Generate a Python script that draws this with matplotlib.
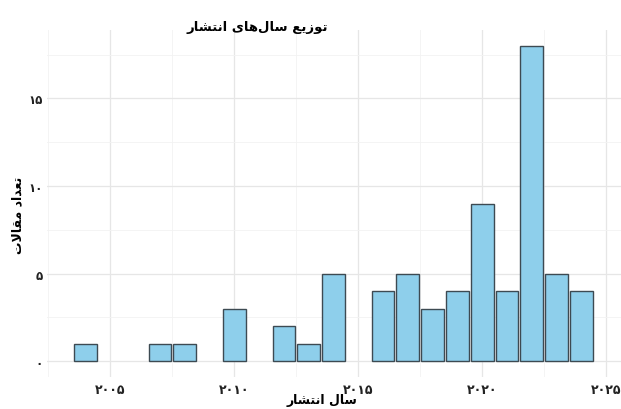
import numpy as np
import matplotlib
matplotlib.use('Agg')
import matplotlib.pyplot as plt
from matplotlib.ticker import MultipleLocator, FixedLocator

years = [2004, 2007, 2008, 2010, 2012, 2013, 2014, 2016, 2017, 2018,
         2019, 2020, 2021, 2022, 2023, 2024]
counts = [1, 1, 1, 3, 2, 1, 5, 4, 5, 3, 4, 9, 4, 18, 5, 4]

x_ticks = [2005, 2010, 2015, 2020, 2025]
y_ticks = [0, 5, 10, 15]

title = 'توزیع سال‌های انتشار'
xlabel = 'سال انتشار'
ylabel = 'تعداد مقالات'

# matplotlib has no arabic shaping, so pick presentation forms by hand
# forms: (isolated, final, initial, medial); None = letter does not join to the left
FORMS = {
    'ا': ('\uFE8D', '\uFE8E', None, None),
    'د': ('\uFEA9', '\uFEAA', None, None),
    'ر': ('\uFEAD', '\uFEAE', None, None),
    'ز': ('\uFEAF', '\uFEB0', None, None),
    'و': ('\uFEED', '\uFEEE', None, None),
    'ت': ('\uFE95', '\uFE96', '\uFE97', '\uFE98'),
    'س': ('\uFEB1', '\uFEB2', '\uFEB3', '\uFEB4'),
    'ش': ('\uFEB5', '\uFEB6', '\uFEB7', '\uFEB8'),
    'ع': ('\uFEC9', '\uFECA', '\uFECB', '\uFECC'),
    'ق': ('\uFED5', '\uFED6', '\uFED7', '\uFED8'),
    'ل': ('\uFEDD', '\uFEDE', '\uFEDF', '\uFEE0'),
    'م': ('\uFEE1', '\uFEE2', '\uFEE3', '\uFEE4'),
    'ن': ('\uFEE5', '\uFEE6', '\uFEE7', '\uFEE8'),
    'ه': ('\uFEE9', '\uFEEA', '\uFEEB', '\uFEEC'),
    'ی': ('\uFEEF', '\uFEF0', '\uFEF3', '\uFEF4'),
}


def shape(s):
    s = s.replace('لا', '\x01')
    out = []
    for i, ch in enumerate(s):
        prev = s[i - 1] if i > 0 else ''
        nxt = s[i + 1] if i + 1 < len(s) else ''
        joins_prev = prev in FORMS and FORMS[prev][2] is not None
        if ch == '\x01':
            out.append('\uFEFC' if joins_prev else '\uFEFB')
            continue
        if ch not in FORMS:
            if ch != '\u200c':
                out.append(ch)
            continue
        f = FORMS[ch]
        joins_next = f[2] is not None and (nxt in FORMS or nxt == '\x01')
        if joins_prev and joins_next:
            out.append(f[3])
        elif joins_prev:
            out.append(f[1])
        elif joins_next:
            out.append(f[2])
        else:
            out.append(f[0])
    return ''.join(reversed(out))


def fa_digits(n):
    return str(n).translate(str.maketrans('0123456789', '۰۱۲۳۴۵۶۷۸۹'))


plt.rcParams['font.family'] = ['DejaVu Sans']

fig = plt.figure(figsize=(6.21, 4.10), dpi=100)
ax = fig.add_axes([0.076, 0.078, 0.924, 0.846])

ax.bar(years, counts, width=0.92, color='#8ecfeb', edgecolor='#3d4a52', linewidth=1.0, zorder=3)

ax.set_xlim(2002.45, 2025.6)
ax.set_ylim(-0.9, 18.9)
ax.xaxis.set_major_locator(FixedLocator(x_ticks))
ax.yaxis.set_major_locator(FixedLocator(y_ticks))
ax.xaxis.set_minor_locator(MultipleLocator(2.5))
ax.yaxis.set_minor_locator(MultipleLocator(2.5))
ax.set_xticklabels([fa_digits(v) for v in x_ticks], fontsize=9, fontweight='bold', color='#222222')
ax.set_yticklabels([fa_digits(v) for v in y_ticks], fontsize=8.5, fontweight='bold', color='#222222')
ax.tick_params(which='both', length=0)
ax.tick_params(axis='x', pad=4)
ax.tick_params(axis='y', pad=3)

ax.grid(which='major', color='#e6e6e6', linewidth=0.9, zorder=0)
ax.grid(which='minor', color='#f2f2f2', linewidth=0.6, zorder=0)
for sp in ax.spines.values():
    sp.set_visible(False)

fig.text(257 / 621, 1 - 27 / 410, shape(title), fontsize=9.5, fontweight='bold',
         ha='center', va='center')
ax.set_xlabel(shape(xlabel), fontsize=9, fontweight='bold', va='center')
ax.xaxis.set_label_coords(0.479, -0.066)
ax.set_ylabel(shape(ylabel), fontsize=9, fontweight='bold', va='center')
ax.yaxis.set_label_coords(-0.052, 0.47)

fig.savefig('out.png', dpi=100)
